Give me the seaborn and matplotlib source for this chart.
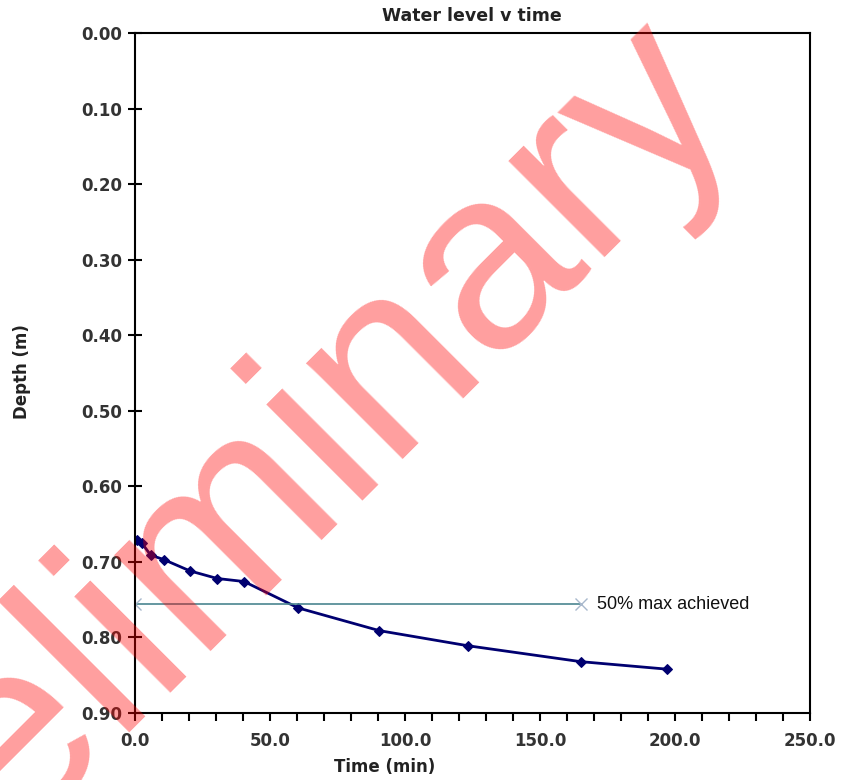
import numpy as np
import pandas as pd
import matplotlib
matplotlib.use("Agg")
import matplotlib.pyplot as plt
from matplotlib.ticker import MultipleLocator, FormatStrFormatter
import seaborn as sns

# water level readings
time_min = [0.6, 2.5, 5.8, 10.7, 20.4, 30.5, 40.4, 60.5, 90.5, 123.3, 165.0, 197.1]
depth_m = [0.671, 0.675, 0.691, 0.697, 0.712, 0.722, 0.726, 0.761, 0.791, 0.811, 0.832, 0.842]

# 50% of max line
half_time = [0.0, 165.0]
half_depth = [0.756, 0.756]
half_label = "50% max achieved"

sns.set_style("white")
plt.rcParams['font.family'] = ['DejaVu Sans']

fig = plt.figure(figsize=(8.47, 7.8), dpi=100)
ax = fig.add_axes([135/847, 1 - 713/780, 675/847, 680/780])

df = pd.DataFrame({'Time': time_min, 'Depth': depth_m})
sns.lineplot(data=df, x='Time', y='Depth', ax=ax, color='#000070', lw=2,
             marker='D', markersize=5, markeredgecolor='#000070',
             estimator=None, sort=False)

half = pd.DataFrame({'Time': half_time, 'Depth': half_depth})
sns.lineplot(data=half, x='Time', y='Depth', ax=ax, color='#4a8590', lw=1.2,
             marker='x', markersize=9, markeredgecolor='#a8b8cc', mew=1.0,
             estimator=None, sort=False)
ax.text(half_time[1] + 6, half_depth[1], half_label, va='center', ha='left',
        fontsize=13, family='Liberation Sans', color='#111111')

ax.set_xlim(0, 250)
ax.set_ylim(0.9, 0.0)
ax.xaxis.set_major_locator(MultipleLocator(50))
ax.xaxis.set_minor_locator(MultipleLocator(10))
ax.yaxis.set_major_locator(MultipleLocator(0.1))
ax.xaxis.set_major_formatter(FormatStrFormatter('%.1f'))
ax.yaxis.set_major_formatter(FormatStrFormatter('%.2f'))

ax.tick_params(axis='x', which='both', direction='out', length=6, width=1.5,
               color='black', bottom=True, labelsize=12, labelcolor='#333333', pad=8)
ax.tick_params(axis='y', which='major', direction='inout', length=10, width=1.5,
               color='black', left=True, labelsize=12, labelcolor='#333333', pad=4)
for lab in ax.get_xticklabels() + ax.get_yticklabels():
    lab.set_fontweight('bold')

for s in ax.spines.values():
    s.set_visible(True)
    s.set_color('black')
    s.set_linewidth(1.5)

ax.set_xlabel('')
ax.set_ylabel('')
fig.text(385/847, 1 - 767/780, 'Time (min)', ha='center', va='center',
         fontsize=12, fontweight='bold', color='#222222')
fig.text(22/847, 1 - 372/780, 'Depth (m)', ha='center', va='center', rotation=90,
         fontsize=12, fontweight='bold', color='#222222')
fig.text(472/847, 1 - 16/780, 'Water level v time', ha='center', va='center',
         fontsize=12.5, fontweight='bold', color='#222222')

# watermark
fig.text(237/847, 1 - 510/780, 'Preliminary', rotation=45, rotation_mode='anchor',
         ha='center', va='center', fontsize=185, family='Liberation Sans',
         color='#ff0000', alpha=0.38, zorder=20)

fig.savefig('out.png', dpi=100)
